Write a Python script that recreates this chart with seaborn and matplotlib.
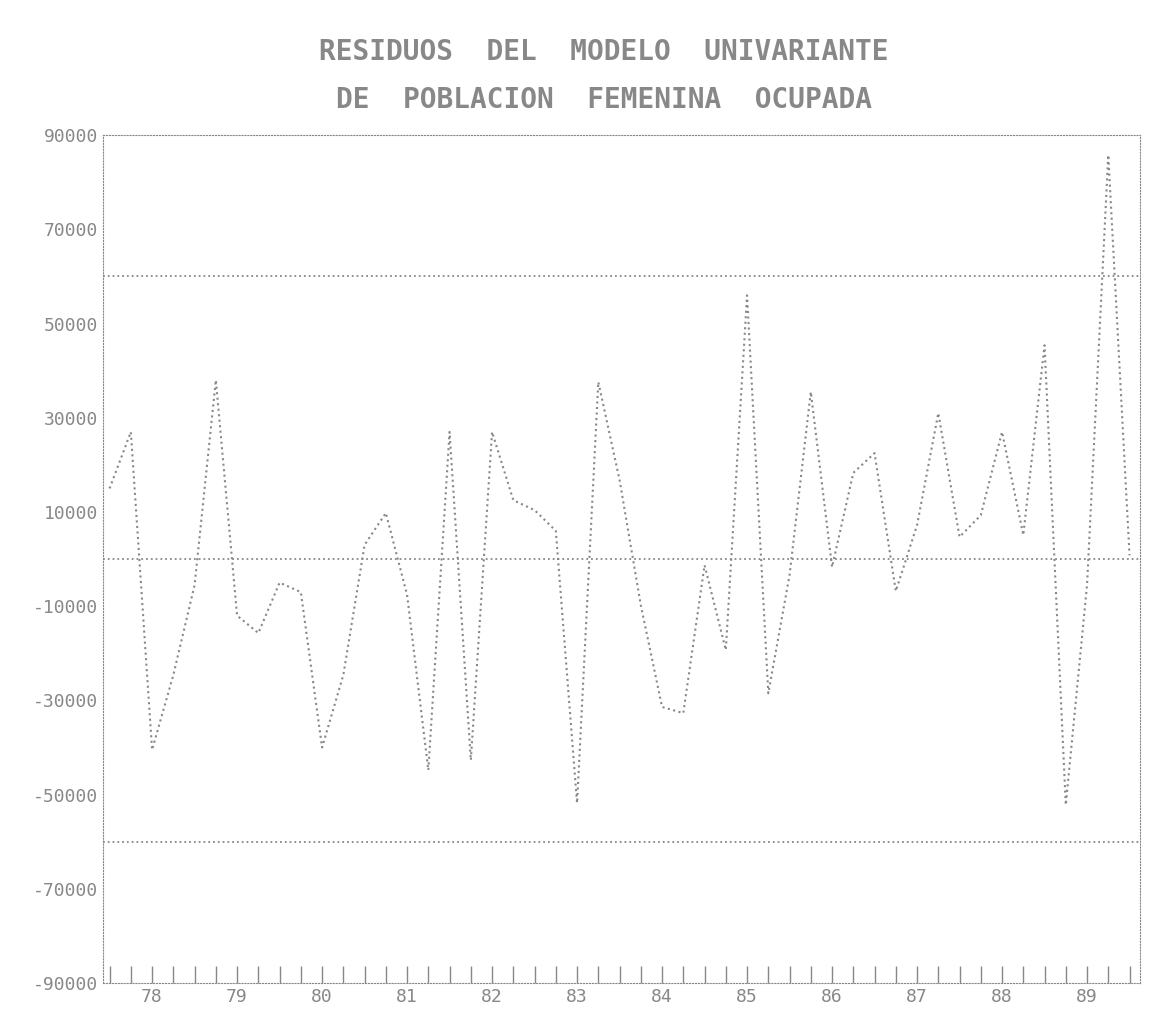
import matplotlib
matplotlib.use("Agg")
import matplotlib.pyplot as plt
import seaborn as sns
import pandas as pd

residuals = [15000, 27000, -40500, -24600, -5500, 38000, -12000, -15700, -5000, -7000,
             -40000, -24600, 3000, 9800, -7600, -44800, 27000, -42700, 27000, 12500,
             10400, 6000, -51800, 37600, 16800, -9800, -31400, -32700, -1300, -19300,
             56000, -28500, -3400, 35500, -1700, 18300, 22500, -6800, 7200, 31000,
             4700, 9300, 27000, 5100, 45400, -52200, -5500, 85800, 800]
year_labels = ["78", "79", "80", "81", "82", "83", "84", "85", "86", "87", "88", "89"]
y_ticks = [90000, 70000, 50000, 30000, 10000, -10000, -30000, -50000, -70000, -90000]
limit = 60000

df = pd.DataFrame({"t": range(len(residuals)), "r": residuals})

sns.set_style("white")
fig = plt.figure(figsize=(11.73, 10.32), dpi=100)
ax = fig.add_axes([0.088, 0.0475, 0.884, 0.8215])
gray = "#888888"
sns.lineplot(data=df, x="t", y="r", ax=ax, color=gray, linestyle=":", linewidth=1.5)
for v in (limit, 0, -limit):
    ax.axhline(v, color=gray, linestyle=":", linewidth=1.3)
ax.set_ylim(-90000, 90000)
ax.set_xlim(-0.3, 48.5)
ax.set_yticks(y_ticks)
ax.set_yticklabels([str(v) for v in y_ticks], color=gray, fontsize=13, family="DejaVu Sans Mono")
ax.set_xticks(range(0, 49))
ax.set_xticklabels([year_labels[(i - 2) // 4] if (i - 2) % 4 == 0 else "" for i in range(49)],
                   color=gray, fontsize=13, family="DejaVu Sans Mono")
ax.tick_params(axis="x", bottom=True, direction="in", length=12, width=1, color=gray)
ax.tick_params(axis="y", length=0)
ax.set_xlabel("")
ax.set_ylabel("")
for s in ax.spines.values():
    s.set_color(gray)
    s.set_linestyle(":")
fig.text(0.515, 0.95, "RESIDUOS  DEL  MODELO  UNIVARIANTE", ha="center", va="center",
         fontsize=20, color=gray, family="DejaVu Sans Mono", fontweight="bold")
fig.text(0.515, 0.903, "DE  POBLACION  FEMENINA  OCUPADA", ha="center", va="center",
         fontsize=20, color=gray, family="DejaVu Sans Mono", fontweight="bold")
fig.savefig("out.png", dpi=100)
